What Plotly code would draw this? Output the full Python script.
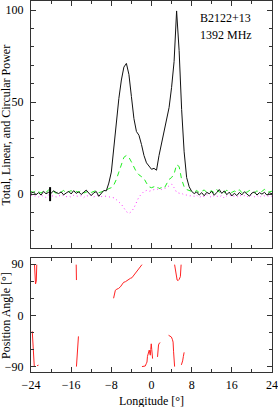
import numpy as np
import plotly.graph_objects as go

# Longitude grid (degrees), 0.5 deg bins
lon = np.arange(-24.0, 24.01, 0.5)

# Total intensity (black solid)
total = [0.5, 1.2, -0.3, 0.8, -0.5, 1.5, 0.2, 1.0, 0.5, 1.8,
         0.9, 0.3, 1.2, -0.4, 0.6, 1.5, 0.1, 1.9, 0.4, 1.3,
         -0.2, 1.0, 2.2, 0.6, -0.8, 0.7, 1.4, -1.2, 0.3, 2.0,
         1.8, 6, 12, 25, 40, 52, 62, 69, 71, 65,
         53, 41, 34, 32, 27, 21, 17, 15, 13.5, 14,
         13, 21, 28, 34, 40, 47, 58, 72, 99.5, 78,
         46, 23, 9, 4, 1.5,
         0.3, 1.2, -0.5, 0.8, -0.9, 1.0, 0.2, 1.5, -0.6, 0.9,
         2.5, 0.4, 1.8, -0.3, 1.1, -1.0, 0.5, -0.8, 0.9, -0.4,
         1.3, 0.1, -1.1, 0.6, 1.2, -0.5, 0.8, 0.0, 1.0, -0.6,
         0.7, 0.2]

# Linear polarisation (green dashed)
linear = [1.5, 0.8, 2.0, 1.2, 0.6, 1.8, 1.0, 2.2, 0.9, 1.4,
          0.5, 1.6, 1.1, 2.0, 0.7, 1.3, 1.9, 0.8, 1.5, 1.0,
          2.1, 0.6, 1.2, 1.7, 0.9, 1.4, 2.0, 0.8, 1.3, 1.6,
          2, 3, 3.5, 5, 8, 12, 16, 20, 21, 20,
          17.5, 14.5, 12, 10.5, 9.5, 8.5, 6, 4, 3.5, 4,
          4.5, 3, 3.5, 3, 5.5, 8, 9, 11, 16, 15,
          8, 4, 2.5, 2, 1.5,
          1.0, 2.0, 0.8, 1.5, 2.3, 0.9, 1.2, 1.8, 0.7, 2.5,
          1.1, 1.6, 0.8, 2.2, 1.3, 0.9, 1.7, 1.1, 2.4, 0.8,
          1.5, 1.0, 2.0, 1.2, 0.7, 1.8, 1.0, 1.5, 2.6, 0.9,
          1.3, 1.6]

# Circular polarisation (magenta dotted)
circular = [-0.5, -1.2, -0.8, -1.5, -0.6, -1.0, -1.8, -0.4, -1.1, -0.9,
            -1.6, -0.7, -1.2, -0.5, -1.4, -0.9, -1.7, -0.6, -1.1, -1.3,
            -0.8, -1.9, -0.7, -1.2, -0.4, -1.5, -1.0, -0.6, -1.3, -1.0,
            -1.2, -1.5, -1.5, -2, -3, -4, -5.5, -7.5, -9.5, -10.5,
            -9.5, -7.5, -4, -1.5, 0, 1.5, 2, 1.5, 2, 2.5,
            2.5, 3, 2.5, 3, 3.5, 4.5, 5.5, 3.5, 1, 0.5,
            0.5, -0.5, -0.5, -1, -0.8,
            -1.2, -0.5, -2.0, -0.9, -1.4, -0.3, -1.1, -1.8, -0.6, -1.0,
            -1.5, -0.7, -2.2, -0.9, -0.4, -1.3, -1.0, -1.7, -0.5, -1.2,
            -0.8, -1.6, -0.3, -1.1, -1.4, -0.7, -1.9, -0.6, -1.0, -1.3,
            -0.8, -1.2]

assert len(total) == len(lon) == len(linear) == len(circular)

# Off-pulse noise error bar
err_lon = [-20.2, -20.2]
err_val = [-3.8, 3.8]

# Position angle (deg), segments separated by None
pa_lon = [-23.3, -23.2, -23.1, -22.95, -22.9, -22.85, None,
          -23.75, -23.65, -23.55, -23.45, -23.35, None,
          -22.8, -22.5, None,
          -15.0, -14.95, -14.95, None,
          -14.55, -14.65, -14.8, -14.95, None,
          -7.55, -7.4, -7.2, -6.9, -6.6, -6.2, -5.9, -5.55, -5.2, -4.9,
          -4.6, -4.2, -3.9, -3.55, -3.2, -2.9, -2.55, -2.2, -1.9, None,
          4.6, 4.75, 4.9, 5.1, 5.3, 5.5, 5.75, 5.85, 5.9, None,
          -1.9, -1.55, -1.25, -1.05, -0.9, -0.8, -0.7, -0.55, -0.45, -0.35,
          -0.24, -0.15, -0.05, 0.05, 0.22, None,
          1.2, 1.3, 1.4, 1.55, 1.75, None,
          3.4, 3.7, 3.95, 4.15, 4.3, 4.4, 4.5, 4.6, None,
          5.95, 6.1, 6.2, 6.35, 6.5]
pa_val = [89, 70, 55, 60, 75, 89, None,
          -28, -45, -65, -80, -89, None,
          -88.5, -87.5, None,
          89, 75, 62, None,
          -37, -55, -72, -90, None,
          30, 38, 44, 46, 47, 50, 54, 58, 59, 61,
          63, 65, 66, 70, 73, 77, 80, 84, 89, None,
          89, 78, 67, 62, 61, 63, 68, 78, 89, None,
          -90, -89.5, -89, -85, -82, -72, -67, -62, -61, -66,
          -70, -60, -50, -60, -76, None,
          -73, -60, -52, -49, -48, None,
          -35, -37, -38, -42, -47, -64, -78, -90, None,
          -87, -84, -80, -72, -65]

FONT = "Liberation Serif"
AX = "#333333"

fig = go.Figure()
fig.add_trace(go.Scatter(x=lon, y=circular, mode="lines", xaxis="x", yaxis="y",
                         line=dict(color="#ff33ff", width=1, dash="1px,3px")))
fig.add_trace(go.Scatter(x=lon, y=linear, mode="lines", xaxis="x", yaxis="y",
                         line=dict(color="#22ee22", width=1, dash="5px,4px")))
fig.add_trace(go.Scatter(x=lon, y=total, mode="lines", xaxis="x", yaxis="y",
                         line=dict(color="#111111", width=1)))
fig.add_trace(go.Scatter(x=err_lon, y=err_val, mode="lines", xaxis="x", yaxis="y",
                         line=dict(color="black", width=2)))
fig.add_trace(go.Scatter(x=pa_lon, y=pa_val, mode="lines", xaxis="x2", yaxis="y2",
                         connectgaps=False, line=dict(color="#ff2222", width=1)))

common = dict(showline=True, linecolor=AX, linewidth=1, mirror="allticks",
              ticks="inside", ticklen=5, tickcolor=AX, tickwidth=1,
              showgrid=False, zeroline=False,
              tickfont=dict(family=FONT, size=12, color="black"))

fig.update_layout(
    width=278, height=407,
    margin=dict(l=31, r=6, t=1, b=35),
    paper_bgcolor="white", plot_bgcolor="white",
    showlegend=False, hovermode=False,
    font=dict(family=FONT, size=12, color="black"),
    xaxis=dict(range=[-24, 24], anchor="y", dtick=8, tick0=0, showticklabels=False,
               minor=dict(dtick=4, ticklen=3, ticks="inside", tickcolor=AX), **common),
    yaxis=dict(range=[-29.3, 104.9], domain=[0.334, 1.0], anchor="x", dtick=50, tick0=0,
               ticklabelstandoff=4,
               minor=dict(dtick=10, ticklen=3, ticks="inside", tickcolor=AX), **common),
    xaxis2=dict(range=[-24, 24], anchor="y2", dtick=8, tick0=0, ticklabelstandoff=2,
                minor=dict(dtick=4, ticklen=3, ticks="inside", tickcolor=AX), **common),
    yaxis2=dict(range=[-99.5, 100.5], domain=[0.0, 0.307], anchor="x2", dtick=90, tick0=0,
                ticklabelstandoff=4,
                minor=dict(dtick=30, ticklen=3, ticks="inside", tickcolor=AX), **common),
    annotations=[
        dict(text="Total, Linear, and Circular Power", xref="paper", yref="paper",
             x=-0.104, y=0.667, textangle=-90, showarrow=False,
             xanchor="center", yanchor="middle", font=dict(family=FONT, size=12)),
        dict(text="Position Angle [°]", xref="paper", yref="paper",
             x=-0.104, y=0.1535, textangle=-90, showarrow=False,
             xanchor="center", yanchor="middle", font=dict(family=FONT, size=12)),
        dict(text="Longitude [°]", xref="paper", yref="paper",
             x=0.5, y=-0.078, showarrow=False,
             xanchor="center", yanchor="middle", font=dict(family=FONT, size=12)),
        dict(text="B2122+13", xref="paper", yref="paper",
             x=0.693, y=0.954, showarrow=False,
             xanchor="left", yanchor="middle", font=dict(family=FONT, size=12)),
        dict(text="1392 MHz", xref="paper", yref="paper",
             x=0.693, y=0.908, showarrow=False,
             xanchor="left", yanchor="middle", font=dict(family=FONT, size=12)),
    ],
)

fig.write_html("out.html", config={"displayModeBar": False},
               post_script="document.body.style.margin='0';document.body.style.overflow='hidden';")
